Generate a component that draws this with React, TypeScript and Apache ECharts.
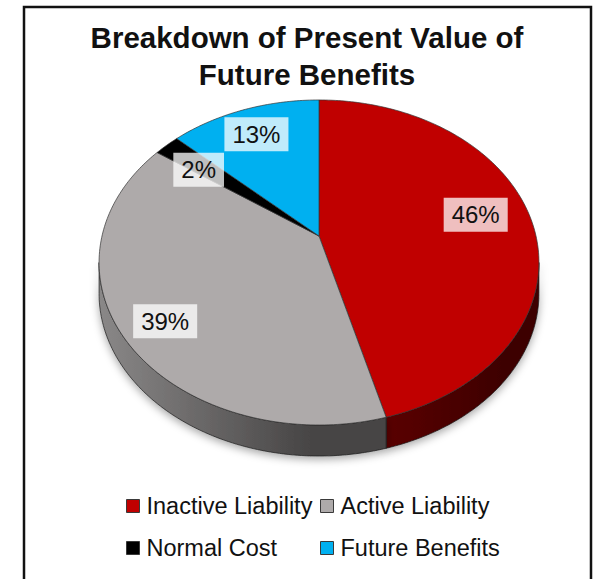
import React, { useEffect, useRef } from "react";
import * as echarts from "echarts";

const categories = ["Inactive Liability", "Active Liability", "Normal Cost", "Future Benefits"];
const values = [45.8, 39.0, 2.2, 13.0];

const topColors = ["#c00000", "#aeaaaa", "#000000", "#00b0f0"];
const sideColors: [string, string][] = [
  ["#5a0000", "#3e0000"],
  ["#8a8888", "#464444"],
  ["#000000", "#000000"],
  ["#007ba8", "#007ba8"],
];
const labelRadii = [0.74, 0.8, 0.78, 0.8];
const labelNudges = [[0, -6], [0, 7], [1, 6], [-1, 2]];

// Perspective projection of the pie disc
const APEX_X = 319;
const APEX_Y = 236;
const SCALE_X = 217;
const SCALE_Y = 158.2;
const TILT = 0.163;
const DEPTH = 31;

function project(thetaDeg: number, r = 1): [number, number] {
  const t = (thetaDeg * Math.PI) / 180;
  const u = r * Math.sin(t);
  const v = r * Math.cos(t);
  const w = 1 + TILT * v;
  return [APEX_X + (SCALE_X * u) / w, APEX_Y - (SCALE_Y * v) / w];
}

function arc(from: number, to: number): [number, number][] {
  const pts: [number, number][] = [];
  const n = Math.max(2, Math.ceil(to - from));
  for (let i = 0; i <= n; i++) pts.push(project(from + ((to - from) * i) / n));
  return pts;
}

const total = values.reduce((a, b) => a + b, 0);
const sideStart = (Math.acos(-TILT) * 180) / Math.PI;
const sideEnd = 360 - sideStart;

function renderSlice(index: number) {
  return (_params: any, api: any) => {
    const value = api.value(0);
    const before = values.slice(0, index).reduce((a, b) => a + b, 0);
    const start = (before / total) * 360;
    const end = start + (value / total) * 360;
    const children: any[] = [];
    const a = Math.max(start, sideStart);
    const b = Math.min(end, sideEnd);
    if (b > a) {
      const rim = arc(a, b);
      const lower = rim.map(([x, y]) => [x, y + DEPTH]).reverse();
      children.push({
        type: "polygon",
        z2: 1,
        shape: { points: [...rim, ...lower] },
        style: {
          fill: new echarts.graphic.LinearGradient(0, 0, 1, 0, [
            { offset: 0, color: sideColors[index][0] },
            { offset: 0.75, color: sideColors[index][1] },
            { offset: 1, color: sideColors[index][1] },
          ]),
          stroke: "#1a1a1a",
          lineWidth: 0.7,
          shadowBlur: 9,
          shadowColor: "rgba(0,0,0,0.35)",
          shadowOffsetY: 3,
        },
      });
    }
    children.push({
      type: "polygon",
      z2: 2,
      shape: { points: [[APEX_X, APEX_Y], ...arc(start, end)] },
      style: { fill: topColors[index], stroke: "#333333", lineWidth: 0.7 },
    });
    const [lx, ly] = project((start + end) / 2, labelRadii[index]);
    children.push({
      type: "text",
      z2: 5,
      style: {
        text: `${Math.round(value)}%`,
        x: lx + labelNudges[index][0],
        y: ly + labelNudges[index][1],
        align: "center",
        verticalAlign: "middle",
        fill: "#111111",
        font: '24px "Liberation Sans"',
        backgroundColor: "rgba(255,255,255,0.75)",
        padding: [5, 8, 5, 8],
      },
    });
    return { type: "group", children };
  };
}

const legendItem = (i: number) => ({
  name: categories[i],
  itemStyle: { color: topColors[i], borderColor: "#3a3a3a", borderWidth: 1 },
});
const legendBase = {
  orient: "vertical" as const,
  top: 493,
  icon: "rect",
  itemWidth: 13,
  itemHeight: 13,
  itemGap: 16,
  padding: 0,
  selectedMode: false,
  textStyle: {
    fontFamily: "Liberation Sans",
    fontSize: 23.5,
    color: "#111111",
    padding: [0, 0, 0, 2],
    lineHeight: 26,
  },
};

export default function App() {
  const ref = useRef<HTMLDivElement>(null);
  useEffect(() => {
    const chart = echarts.init(ref.current!, undefined, { renderer: "svg" });
    chart.setOption({
      animation: false,
      backgroundColor: "#ffffff",
      title: {
        text: "Breakdown of Present Value of\nFuture Benefits",
        left: 307,
        top: 19,
        padding: 0,
        textAlign: "center",
        textStyle: {
          fontFamily: "Liberation Sans",
          fontWeight: "bold",
          fontSize: 29.5,
          lineHeight: 37,
          color: "#111111",
        },
      },
      legend: [
        { ...legendBase, left: 126, data: [legendItem(0), legendItem(2)] },
        { ...legendBase, left: 320, data: [legendItem(1), legendItem(3)] },
      ],
      graphic: [
        {
          type: "polyline",
          silent: true,
          shape: { points: [[24, 585], [24, 7], [591, 7], [591, 585]] },
          style: { fill: "none", stroke: "#111111", lineWidth: 2.5 },
        },
      ],
      series: categories.map((name, i) => ({
        type: "custom",
        name,
        coordinateSystem: "none",
        silent: true,
        itemStyle: { color: topColors[i] },
        renderItem: renderSlice(i),
        data: [[values[i]]],
      })),
    });
    return () => chart.dispose();
  }, []);
  return (
    <div
      ref={ref}
      style={{ position: "absolute", left: 0, top: 0, width: 603, height: 579 }}
    />
  );
}
